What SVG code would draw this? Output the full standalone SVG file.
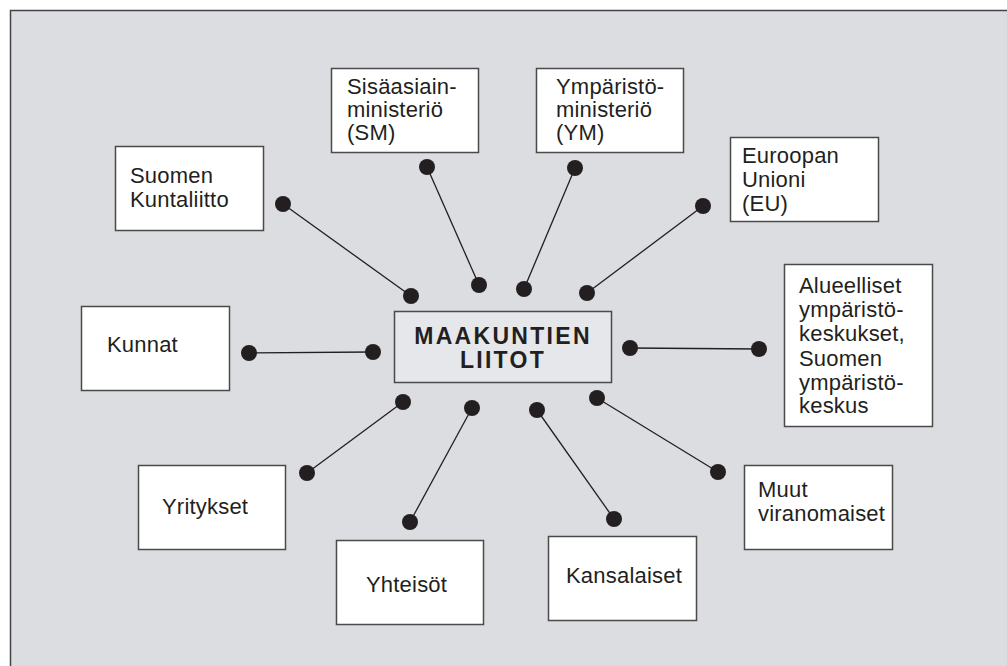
<svg xmlns="http://www.w3.org/2000/svg" width="1007" height="666" viewBox="0 0 1007 666">
<style>
.box{fill:#fff;stroke:#4a4a4a;stroke-width:1.5}
.t{font-family:"Liberation Sans",Arial,sans-serif;font-size:22px;fill:#231f20;letter-spacing:0.2px}
.c{font-family:"Liberation Sans",Arial,sans-serif;font-size:23px;font-weight:bold;fill:#231f20;text-anchor:middle;letter-spacing:2.3px}
.ln{stroke:#231f20;stroke-width:1.3;fill:none}
.dot{fill:#231f20}
</style>
<rect x="10.5" y="10.5" width="1010" height="670" fill="#dcdde0" stroke="#444" stroke-width="1.5"/>
<g id="connectors">
<line class="ln" x1="283" y1="204" x2="411" y2="296"/>
<line class="ln" x1="427" y1="167" x2="479" y2="285"/>
<line class="ln" x1="575" y1="168" x2="524" y2="289"/>
<line class="ln" x1="703" y1="206" x2="587" y2="293"/>
<line class="ln" x1="249" y1="353" x2="373" y2="352"/>
<line class="ln" x1="630" y1="348" x2="759" y2="349"/>
<line class="ln" x1="403" y1="402" x2="307" y2="473"/>
<line class="ln" x1="472" y1="408" x2="410" y2="522"/>
<line class="ln" x1="537" y1="410" x2="614" y2="519"/>
<line class="ln" x1="597" y1="398" x2="718" y2="472"/>
<g class="dot">
<circle cx="283" cy="204" r="8"/><circle cx="411" cy="296" r="8"/>
<circle cx="427" cy="167" r="8"/><circle cx="479" cy="285" r="8"/>
<circle cx="575" cy="168" r="8"/><circle cx="524" cy="289" r="8"/>
<circle cx="703" cy="206" r="8"/><circle cx="587" cy="293" r="8"/>
<circle cx="249" cy="353" r="8"/><circle cx="373" cy="352" r="8"/>
<circle cx="630" cy="348" r="8"/><circle cx="759" cy="349" r="8"/>
<circle cx="403" cy="402" r="8"/><circle cx="307" cy="473" r="8"/>
<circle cx="472" cy="408" r="8"/><circle cx="410" cy="522" r="8"/>
<circle cx="537" cy="410" r="8"/><circle cx="614" cy="519" r="8"/>
<circle cx="597" cy="398" r="8"/><circle cx="718" cy="472" r="8"/>
</g>
</g>
<g id="center">
<rect x="394.5" y="311.5" width="217" height="71" fill="#e6e7ea" stroke="#4a4a4a" stroke-width="1.5"/>
<text class="c" x="503" y="344">MAAKUNTIEN</text>
<text class="c" x="503" y="368">LIITOT</text>
</g>
<g id="kuntaliitto">
<rect class="box" x="115.5" y="146.5" width="148" height="84"/>
<text class="t" x="130" y="183">Suomen</text>
<text class="t" x="130" y="207">Kuntaliitto</text>
</g>
<g id="sm">
<rect class="box" x="331.5" y="68.5" width="147" height="84"/>
<text class="t" x="347" y="94">Sisäasiain-</text>
<text class="t" x="347" y="117">ministeriö</text>
<text class="t" x="347" y="140">(SM)</text>
</g>
<g id="ym">
<rect class="box" x="536.5" y="68.5" width="147" height="84"/>
<text class="t" x="556" y="94">Ympäristö-</text>
<text class="t" x="556" y="117">ministeriö</text>
<text class="t" x="556" y="140">(YM)</text>
</g>
<g id="eu">
<rect class="box" x="730.5" y="137.5" width="148" height="84"/>
<text class="t" x="742" y="163">Euroopan</text>
<text class="t" x="742" y="187">Unioni</text>
<text class="t" x="742" y="211">(EU)</text>
</g>
<g id="alueelliset">
<rect class="box" x="784.5" y="264.5" width="148" height="162"/>
<text class="t" x="799" y="293">Alueelliset</text>
<text class="t" x="799" y="317">ympäristö-</text>
<text class="t" x="799" y="341">keskukset,</text>
<text class="t" x="799" y="366">Suomen</text>
<text class="t" x="799" y="390">ympäristö-</text>
<text class="t" x="799" y="413">keskus</text>
</g>
<g id="kunnat">
<rect class="box" x="81.5" y="306.5" width="148" height="84"/>
<text class="t" x="107" y="352">Kunnat</text>
</g>
<g id="yritykset">
<rect class="box" x="138.5" y="465.5" width="147" height="84"/>
<text class="t" x="162" y="514">Yritykset</text>
</g>
<g id="yhteisot">
<rect class="box" x="336.5" y="540.5" width="147" height="84"/>
<text class="t" x="366" y="592">Yhteisöt</text>
</g>
<g id="kansalaiset">
<rect class="box" x="548.5" y="536.5" width="148" height="84"/>
<text class="t" x="566" y="583">Kansalaiset</text>
</g>
<g id="muut">
<rect class="box" x="744.5" y="465.5" width="148" height="84"/>
<text class="t" x="758" y="497">Muut</text>
<text class="t" x="758" y="521">viranomaiset</text>
</g>
</svg>
